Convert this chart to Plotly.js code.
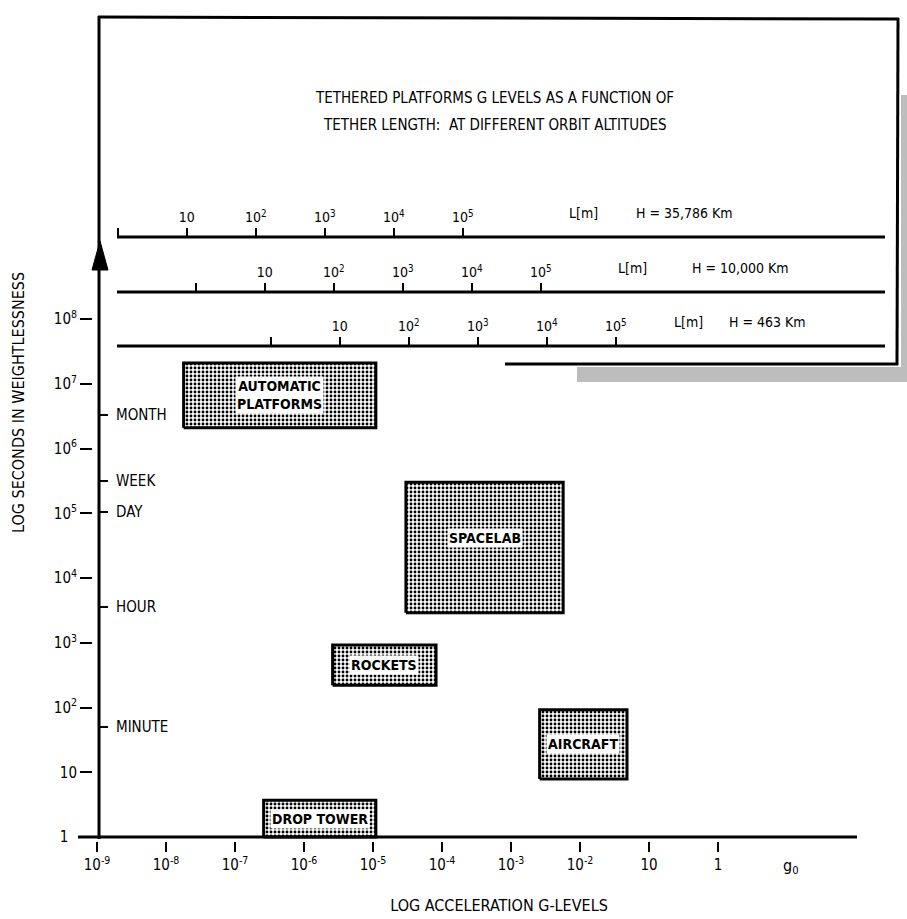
<!DOCTYPE html>
<html>
<head>
<meta charset="utf-8">
<script src="https://cdn.plot.ly/plotly-3.0.1.min.js"></script>
<style>html,body{margin:0;padding:0;background:#fff;}</style>
</head>
<body>
<div id="chart" style="width:907px;height:919px;"></div>
<script>
// ---------------- DATA ----------------
// Low-gravity facilities: acceleration range (g) and duration range (s)
const facilities = ['AUTOMATIC<br>PLATFORMS', 'SPACELAB', 'ROCKETS', 'AIRCRAFT', 'DROP TOWER'];
const gMin = [1.8e-8, 3.0e-5, 2.6e-6, 2.6e-3, 2.6e-7];
const gMax = [1.1e-5, 5.7e-3, 8.2e-5, 4.8e-2, 1.1e-5];
const tMin = [2.1e6, 2.9e3, 2.2e2, 7.9, 1];
const tMax = [2.1e7, 3.0e5, 9.2e2, 92, 3.7];

// Acceleration axis ticks
const gTickVals = [1e-9, 1e-8, 1e-7, 1e-6, 1e-5, 1e-4, 1e-3, 1e-2, 1e-1, 1];
const gTickText = ['10<sup>-9</sup>', '10<sup>-8</sup>', '10<sup>-7</sup>', '10<sup>-6</sup>', '10<sup>-5</sup>',
                   '10<sup>-4</sup>', '10<sup>-3</sup>', '10<sup>-2</sup>', '10', '1'];
const gUnitLabel = 'g<sub>0</sub>';
const gUnitPos = 11.5;

// Time axis ticks
const tTickVals = [1, 10, 1e2, 1e3, 1e4, 1e5, 1e6, 1e7, 1e8];
const tTickText = ['1', '10', '10<sup>2</sup>', '10<sup>3</sup>', '10<sup>4</sup>', '10<sup>5</sup>',
                   '10<sup>6</sup>', '10<sup>7</sup>', '10<sup>8</sup>'];
const namedTimes = ['MONTH', 'WEEK', 'DAY', 'HOUR', 'MINUTE'];
const namedTimeVals = [3.3e6, 3.2e5, 1.05e5, 3.6e3, 50];

// Tethered platforms: g-level per metre of tether for each orbit altitude
const orbitLabels = ['H = 35,786 Km', 'H = 10,000 Km', 'H = 463 Km'];
const gAtOneMetre = [2.0e-9, 2.7e-8, 3.3e-7];
const tetherLengths = [1, 10, 1e2, 1e3, 1e4, 1e5];
const tetherLabels = ['', '10', '10<sup>2</sup>', '10<sup>3</sup>', '10<sup>4</sup>', '10<sup>5</sup>'];

const titleLine1 = 'TETHERED PLATFORMS G LEVELS AS A FUNCTION OF';
const titleLine2 = 'TETHER LENGTH:  AT DIFFERENT ORBIT ALTITUDES';
const xTitle = 'LOG ACCELERATION G-LEVELS';
const yTitle = 'LOG SECONDS IN WEIGHTLESSNESS';

// ---------------- LAYOUT GEOMETRY ----------------
const W = 907, H = 919;
const ML = 93, MR = 2, MT = 10, MB = 78;
const PW = W - ML - MR, PH = H - MT - MB;
const X0PX = 97, Y0PX = 837;              // pixel of g = 1e-9 and of t = 1 s
const pxPerDecX = 69, pxPerDecY = 64.75;
const xRange = [-9 - (X0PX - ML) / pxPerDecX, -9 + (W - MR - X0PX) / pxPerDecX];
const yRange = [-(H - MB - Y0PX) / pxPerDecY, (Y0PX - MT) / pxPerDecY];
const px = v => (v - ML) / PW;            // pixel x -> paper
const py = v => (H - MB - v) / PH;        // pixel y -> paper

const FONT = '"Liberation Sans Narrow", "DejaVu Sans Condensed", "Arial Narrow", sans-serif';
const tetherLineY = [237, 292, 346];
const tetherLmX = [583, 632, 688];
const tetherHX = [684, 740, 767];
const labelYShift = [0, 10, 0, 0, 0];

// ---------------- TRACES ----------------
const traces = facilities.map((name, i) => ({
  type: 'scatter', mode: 'lines',
  x: [gMin[i], gMax[i], gMax[i], gMin[i], gMin[i]],
  y: [tMin[i], tMin[i], tMax[i], tMax[i], tMin[i]],
  fill: 'toself',
  fillcolor: 'rgba(0,0,0,0)',
  fillpattern: {shape: '.', fgcolor: '#000', bgcolor: '#fff', size: 4, solidity: 0.4},
  line: {color: '#000', width: 3},
  hoverinfo: 'skip', showlegend: false, name: name.replace('<br>', ' ')
}));
// carrier traces so that the named-time axis and the tether-length scales are drawn
traces.push({type: 'scatter', mode: 'markers', xaxis: 'x', yaxis: 'y2',
  x: namedTimeVals.map(() => null), y: namedTimeVals, hoverinfo: 'skip', showlegend: false});
gAtOneMetre.forEach((g1, i) => traces.push({type: 'scatter', mode: 'markers', xaxis: 'x' + (i + 2), yaxis: 'y',
  x: tetherLengths, y: tetherLengths.map(() => null), hoverinfo: 'skip', showlegend: false}));

// ---------------- ANNOTATIONS ----------------
const annotations = [];
facilities.forEach((name, i) => {
  annotations.push({
    xref: 'x', yref: 'y', xanchor: 'center', yanchor: 'middle',
    x: (Math.log10(gMin[i]) + Math.log10(gMax[i])) / 2,
    y: (Math.log10(tMin[i]) + Math.log10(tMax[i])) / 2,
    yshift: labelYShift[i],
    text: name, showarrow: false, bgcolor: '#fff', borderpad: 1,
    font: {family: FONT, size: 14, color: '#000', weight: 'bold'}
  });
});
orbitLabels.forEach((lab, i) => {
  annotations.push({xref: 'paper', yref: 'paper', xanchor: 'center', yanchor: 'middle',
    x: px(tetherLmX[i]), y: py(tetherLineY[i] - 24),
    text: 'L[m]', showarrow: false, font: {family: FONT, size: 14, color: '#000'}});
  annotations.push({xref: 'paper', yref: 'paper', xanchor: 'center', yanchor: 'middle',
    x: px(tetherHX[i]), y: py(tetherLineY[i] - 24),
    text: lab, showarrow: false, font: {family: FONT, size: 14, color: '#000'}});
});
annotations.push({xref: 'x', yref: 'paper', xanchor: 'center', yanchor: 'middle',
  x: Math.log10(gUnitPos), y: py(866),
  text: gUnitLabel, showarrow: false, font: {family: FONT, size: 16, color: '#000'}});
annotations.push({xref: 'paper', yref: 'paper', xanchor: 'center', yanchor: 'middle',
  x: px(19), y: py(403), textangle: -90,
  text: yTitle, showarrow: false, font: {family: FONT, size: 16, color: '#000'}});
annotations.push({xref: 'paper', yref: 'paper', xanchor: 'center', yanchor: 'middle',
  x: px(495), y: py(125),
  text: titleLine2, showarrow: false, font: {family: FONT, size: 15, color: '#000'}});

// ---------------- SHAPES (frame, axis lines, tether scale baselines) ----------------
const line = (x0, y0, x1, y1, w) => ({type: 'line', xref: 'paper', yref: 'paper',
  x0: px(x0), y0: py(y0), x1: px(x1), y1: py(y1), line: {color: '#000', width: w || 3}});
const shapes = [
  {type: 'rect', xref: 'paper', yref: 'paper', x0: px(901), x1: px(907), y0: py(95), y1: py(382),
   fillcolor: '#bdbdbd', line: {width: 0}, layer: 'below'},
  {type: 'rect', xref: 'paper', yref: 'paper', x0: px(577), x1: px(907), y0: py(367), y1: py(382),
   fillcolor: '#bdbdbd', line: {width: 0}, layer: 'below'},
  line(99, 839, 99, 16),          // y axis / frame left
  line(78, 837, 857, 837),        // x axis
  line(98, 17, 899, 19),          // frame top
  line(898, 18, 897, 365),        // frame right
  line(505, 364, 898, 364),       // frame bottom (partial)
  {type: 'path', xref: 'paper', yref: 'paper', fillcolor: '#000', line: {color: '#000', width: 1},
   path: `M ${px(100)} ${py(241)} L ${px(92)} ${py(270)} L ${px(108)} ${py(270)} Z`}
];
tetherLineY.forEach(y => shapes.push(line(117, y, 885, y)));

// ---------------- AXES ----------------
const layout = {
  width: W, height: H,
  margin: {l: ML, r: MR, t: MT, b: MB},
  paper_bgcolor: '#fff', plot_bgcolor: '#fff',
  showlegend: false,
  font: {family: FONT, color: '#000', size: 14},
  title: {text: titleLine1, xref: 'container', yref: 'container',
    x: 495 / W, xanchor: 'center', y: 1 - 98 / H, yanchor: 'middle',
    font: {family: FONT, size: 15, color: '#000'}},
  xaxis: {type: 'log', range: xRange, tickmode: 'array', tickvals: gTickVals, ticktext: gTickText,
    ticks: 'outside', ticklen: 10, tickwidth: 2, tickcolor: '#000', showline: false, showgrid: false,
    zeroline: false, tickfont: {family: FONT, size: 15, color: '#000'},
    title: {text: xTitle, standoff: 26, font: {family: FONT, size: 16, color: '#000'}}},
  yaxis: {type: 'log', range: yRange, tickmode: 'array', tickvals: tTickVals,
    ticktext: tTickText.map((t, i) => i === 0 ? t + '\u2007' : t),
    ticks: 'outside', ticklen: 12, tickwidth: 2, tickcolor: '#000', showline: false, showgrid: false,
    zeroline: false, tickfont: {family: FONT, size: 15, color: '#000'}},
  yaxis2: {type: 'log', range: yRange, overlaying: 'y', anchor: 'free', position: px(99), side: 'right',
    tickmode: 'array', tickvals: namedTimeVals, ticktext: namedTimes,
    ticks: 'outside', ticklen: 8, tickwidth: 2, tickcolor: '#000', ticklabelstandoff: 5,
    showline: false, showgrid: false, zeroline: false, tickfont: {family: FONT, size: 15, color: '#000'}},
  annotations: annotations,
  shapes: shapes
};
gAtOneMetre.forEach((g1, i) => {
  const off = Math.log10(g1);
  layout['xaxis' + (i + 2)] = {
    type: 'log', overlaying: 'x', anchor: 'free', position: py(tetherLineY[i]), side: 'top',
    range: [xRange[0] - off, xRange[1] - off],
    tickmode: 'array', tickvals: tetherLengths, ticktext: tetherLabels,
    ticks: 'outside', ticklen: 9, tickwidth: 2, tickcolor: '#000',
    showline: false, showgrid: false, zeroline: false, tickfont: {family: FONT, size: 14, color: '#000'}
  };
});

Plotly.newPlot('chart', traces, layout, {displayModeBar: false, staticPlot: true});
</script>
</body>
</html>
